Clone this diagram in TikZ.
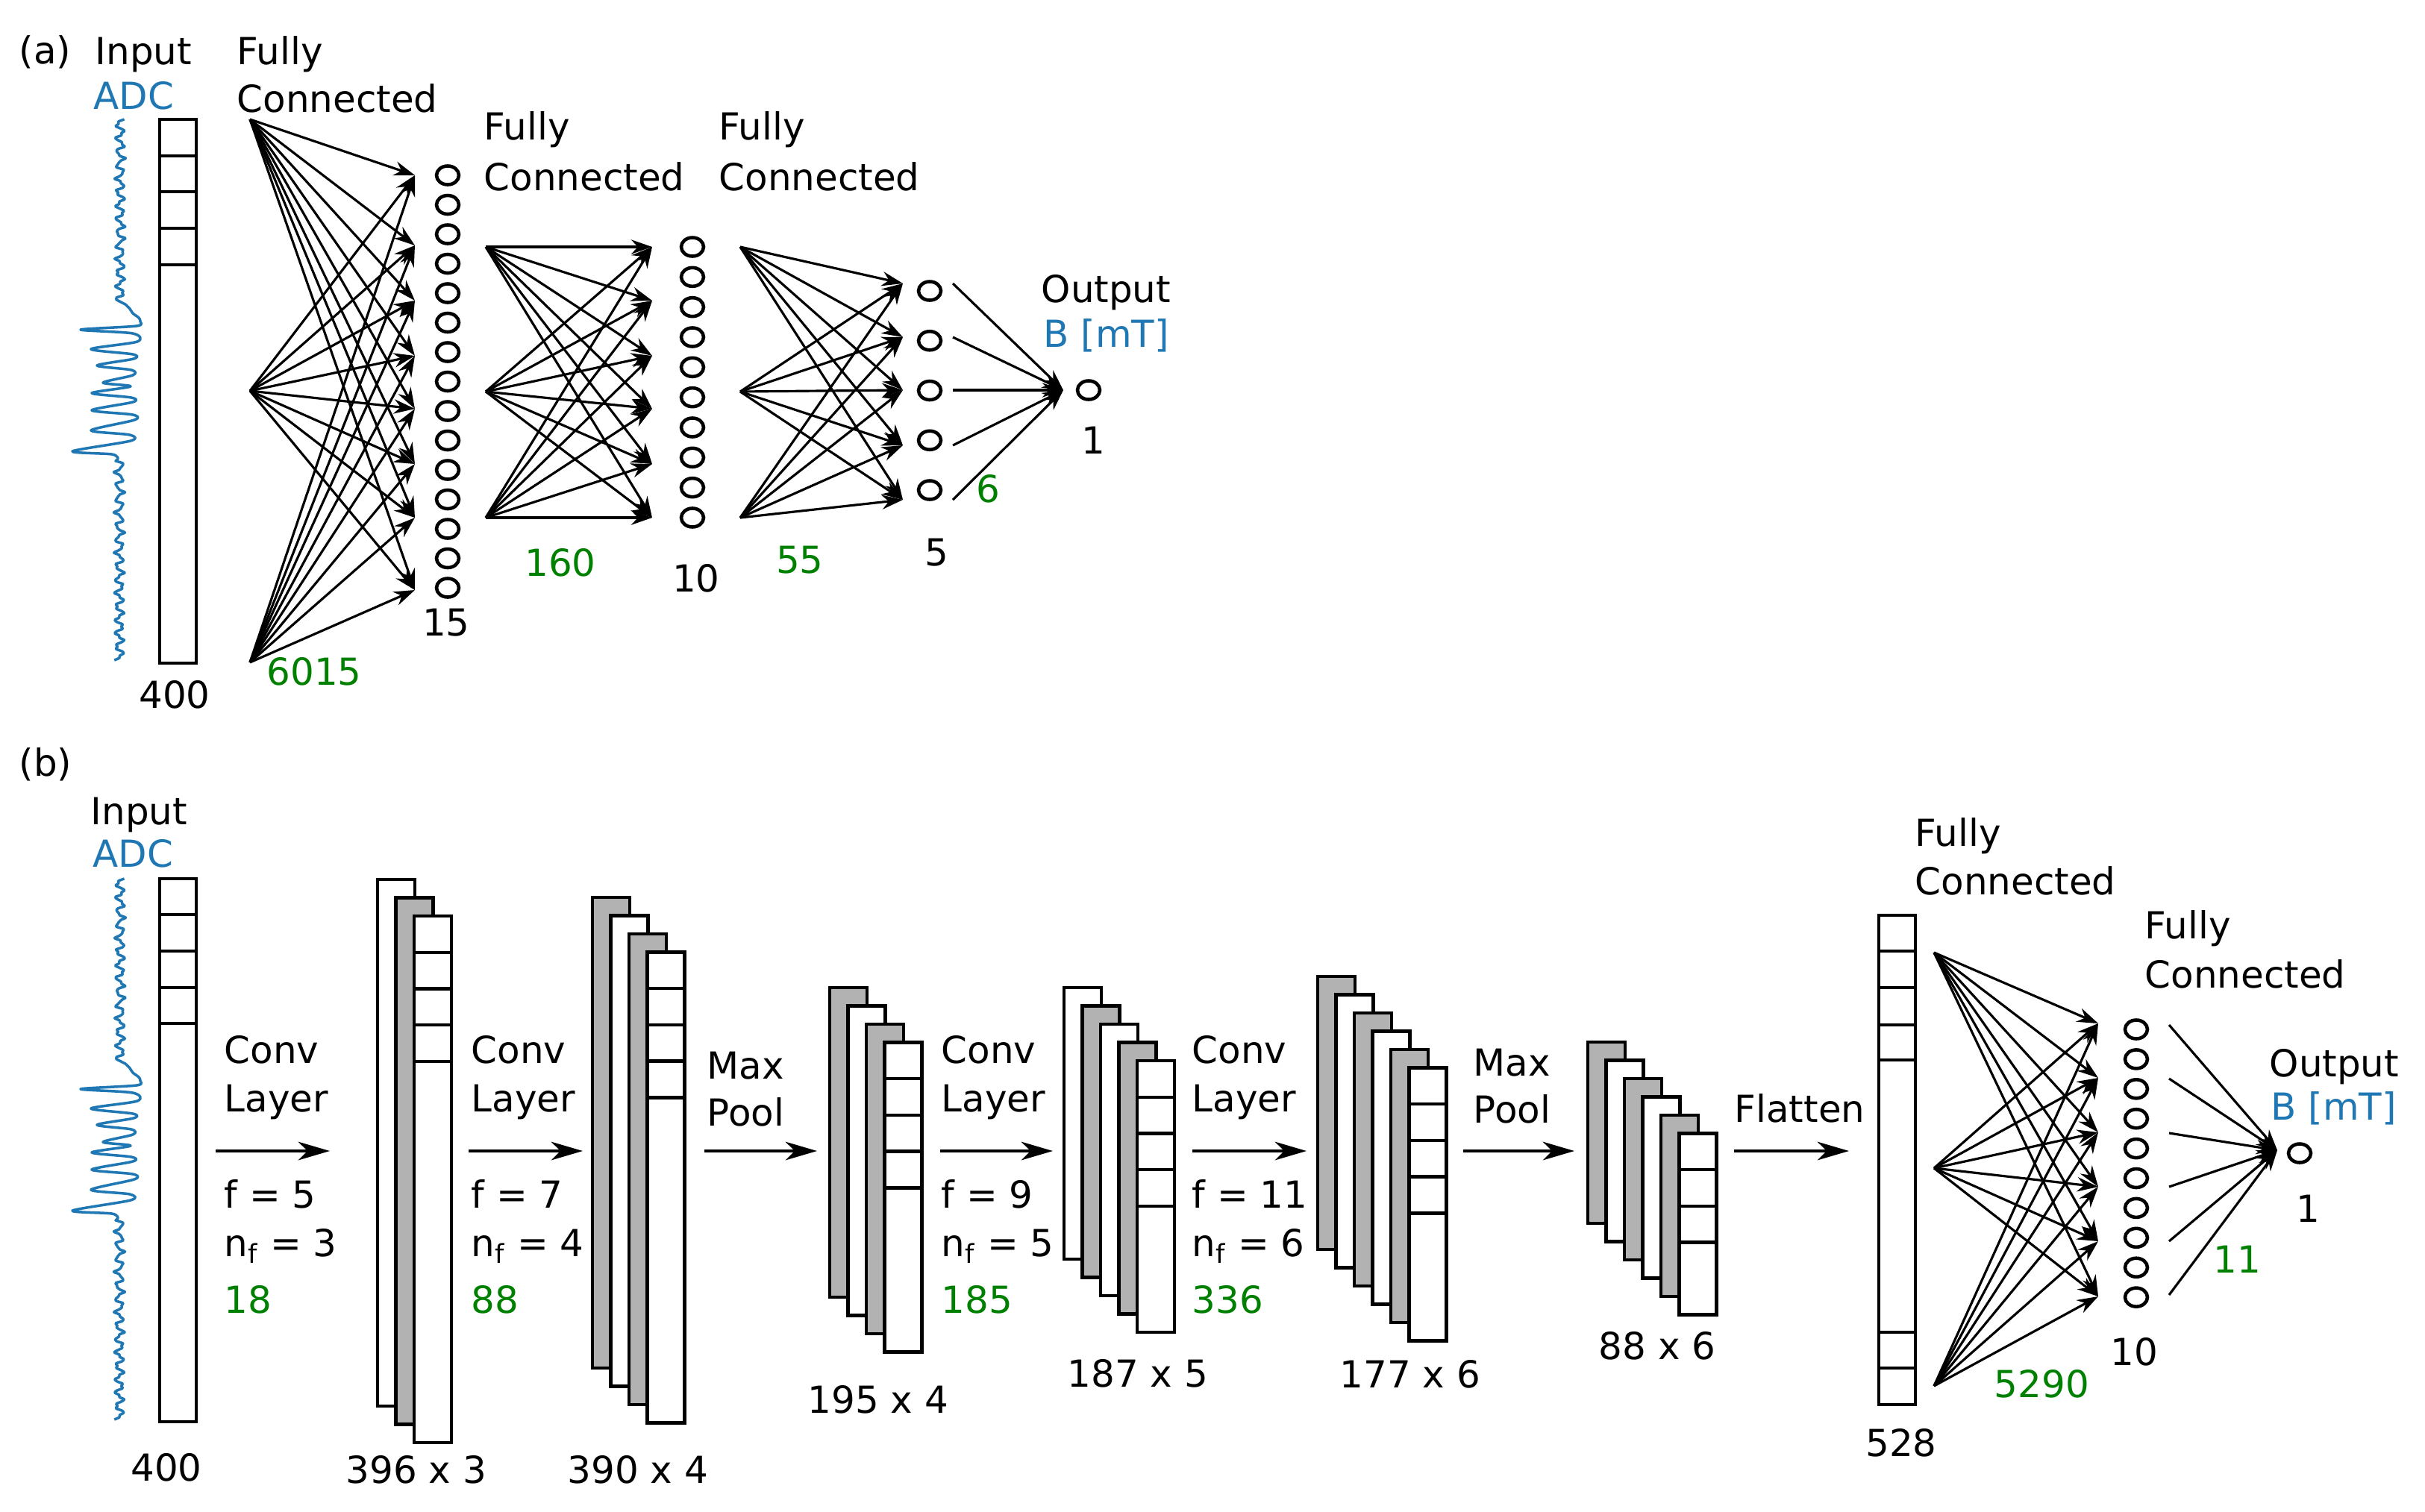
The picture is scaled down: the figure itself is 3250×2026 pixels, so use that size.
\documentclass[tikz,border=0pt]{standalone}
\usepackage{xcolor}
\usepackage{fontspec}
\setmainfont{DejaVu Sans}
\usepackage{tikz}
\usetikzlibrary{arrows.meta, shapes.geometric}

\definecolor{adcblue}{RGB}{31,119,180}
\definecolor{pgreen}{RGB}{0,128,0}
\definecolor{mapgray}{RGB}{178,178,178}

% stack of feature maps: x, y, height, number of maps, number of cells
\newcommand{\fstack}[5]{%
  \foreach \i in {1,...,#4}{
    \pgfmathsetmacro{\fmx}{#1+24.5*(\i-1)}
    \pgfmathsetmacro{\fmy}{#2+24.5*(\i-1)}
    \pgfmathtruncatemacro{\fmodd}{mod(#4-\i,2)}
    \ifnum\fmodd=1 \def\fmcol{mapgray}\else\def\fmcol{white}\fi
    \draw[layerbox, fill=\fmcol] (\fmx,\fmy) rectangle ++(50,#3);
  }
  \pgfmathsetmacro{\fmlx}{#1+24.5*(#4-1)}
  \pgfmathsetmacro{\fmly}{#2+24.5*(#4-1)}
  \foreach \c in {1,...,#5} \draw[layerbox] (\fmlx,\fmly+48.7*\c) -- ++(50,0);
}

\newcommand{\adcwave}{%
  \draw[wave] plot[smooth, domain=160:402, samples=80] ({161+5*sin(20*(\x-280))+2.5*sin(47*(\x-280)+30)},\x)
    -- plot[smooth, tension=0.5] coordinates {(168,408) (174,414) (178,420) (186,426) (188,431)
       (183,437) (108,442) (178,447) (184,458) (122,468) (178,475) (179,481) (130,490) (176,496)
       (178,503) (138,513) (175,518) (123,527) (176,533) (178,539) (123,550) (178,556) (180,563)
       (122,577) (174,583) (175,591) (97,605) (150,609) (158,615)}
    -- plot[smooth, domain=618:885, samples=90] ({160+5*sin(20*(\x-750)+90)+2.5*sin(47*(\x-750))},\x);
}

\begin{document}
\begin{tikzpicture}[x=0.01cm, y=-0.01cm]
\tikzstyle{neuron}=[ellipse, draw, line width=1.3pt, minimum width=0.30cm, minimum height=0.25cm, inner sep=0pt]
\tikzstyle{lbl}=[inner sep=0pt, anchor=base west, font=\fontsize{14.2}{17}\selectfont]
\tikzstyle{dimlbl}=[lbl, anchor=base]
\tikzstyle{parlbl}=[lbl, text=pgreen]
\tikzstyle{fcarrow}=[-{Stealth[length=8pt, width=5.5pt]}, line width=0.9pt]
\tikzstyle{convarrow}=[-{Stealth[length=12pt, width=7pt, inset=3.5pt]}, line width=1.1pt]
\tikzstyle{layerbox}=[draw, line width=1.25pt]
\tikzstyle{wave}=[adcblue, line width=1pt, line join=round]
\useasboundingbox (0,0) rectangle (3250,2026);

% (a)
\node[lbl] (tagA) at (25,85) {(a)};
\node[lbl] (inA) at (127,86) {Input};
\node[lbl, text=adcblue] (adcA) at (125,146) {ADC};
\adcwave
\draw[layerbox] (214,160) rectangle (263,889);
\foreach \c in {209,257,306,355} \draw[layerbox] (214,\c) -- (263,\c);
\node[dimlbl] (lenA) at (234,949) {400};

\node[lbl] (fcA1a) at (317,86) {Fully};
\node[lbl] (fcA1b) at (317,150) {Connected};
\foreach \s/\sy in {1/160, 2/524, 3/888} \coordinate (a1s\s) at (335,\sy);
\foreach \t/\ty in {1/235, 2/329, 3/403, 4/477, 5/548, 6/622, 7/694, 8/791} \coordinate (a1t\t) at (556,\ty);
\foreach \s in {1,2,3} \foreach \t in {1,...,8} \draw[fcarrow] (a1s\s) -- (a1t\t);
\node[parlbl] (pA1) at (357,918) {6015};
\foreach \k in {0,...,14} \node[neuron] (hA1-\k) at (600,235+39.5*\k) {};
\node[dimlbl] (nA1) at (598,852) {15};

\node[lbl] (fcA2a) at (648,187) {Fully};
\node[lbl] (fcA2b) at (648,255) {Connected};
\foreach \s/\sy in {1/331, 2/525, 3/694} \coordinate (a2s\s) at (651,\sy);
\foreach \t/\ty in {1/331, 2/403, 3/477, 4/548, 5/622, 6/694} \coordinate (a2t\t) at (874,\ty);
\foreach \s in {1,2,3} \foreach \t in {1,...,6} \draw[fcarrow] (a2s\s) -- (a2t\t);
\node[parlbl, anchor=base] (pA2) at (751,772) {160};
\foreach \k in {0,...,9} \node[neuron] (hA2-\k) at (928,331+40.33*\k) {};
\node[dimlbl] (nA2) at (933,793) {10};

\node[lbl] (fcA3a) at (963,187) {Fully};
\node[lbl] (fcA3b) at (963,255) {Connected};
\foreach \s/\sy in {1/331, 2/525, 3/694} \coordinate (a3s\s) at (992,\sy);
\foreach \t/\ty in {1/380, 2/452, 3/523, 4/597, 5/670} \coordinate (a3t\t) at (1210,\ty);
\foreach \s in {1,2,3} \foreach \t in {1,...,5} \draw[fcarrow] (a3s\s) -- (a3t\t);
\node[parlbl, anchor=base] (pA3) at (1072,768) {55};
\foreach \k in {0,...,4} \node[neuron] (hA3-\k) at (1246,390+66.75*\k) {};
\node[dimlbl] (nA3) at (1255,758) {5};

\coordinate (aout) at (1425,523);
\foreach \t/\ty in {1/380, 2/452, 3/523, 4/597, 5/670} {
  \coordinate (a4s\t) at (1277,\ty);
  \draw[fcarrow] (a4s\t) -- (aout);
}
\node[neuron] (yA) at (1459,523) {};
\node[lbl] (outA) at (1395,405) {Output};
\node[lbl, text=adcblue] (bA) at (1398,465) {B [mT]};
\node[dimlbl] (nA4) at (1465,608) {1};
\node[parlbl] (pA4) at (1308,673) {6};

% (b)
\node[lbl] (tagB) at (25,1040) {(b)};
\node[lbl] (inB) at (121,1105) {Input};
\node[lbl, text=adcblue] (adcB) at (124,1162) {ADC};
\begin{scope}[shift={(0,1018)}]
\adcwave
\end{scope}
\draw[layerbox] (214,1178) rectangle (263,1906);
\foreach \c in {1226,1275,1324,1372} \draw[layerbox] (214,\c) -- (263,\c);
\node[dimlbl] (lenB) at (223,1985) {400};

\foreach \i/\cx/\cf/\cn/\cp in {1/300/5/3/18, 2/631/7/4/88, 3/1261/9/5/185, 4/1597/11/6/336} {
  \node[lbl] (conv\i-a) at (\cx,1425) {Conv};
  \node[lbl] (conv\i-b) at (\cx,1490) {Layer};
  \node[lbl] (conv\i-f) at (\cx,1619) {f = \cf};
  \node[lbl] (conv\i-n) at (\cx,1684) {n\textsubscript{f} = \cn};
  \node[parlbl] (conv\i-p) at (\cx,1760) {\cp};
}
\node[lbl] (pool1-a) at (947,1446) {Max};
\node[lbl] (pool1-b) at (947,1509) {Pool};
\node[lbl] (pool2-a) at (1974,1442) {Max};
\node[lbl] (pool2-b) at (1974,1505) {Pool};
\node[lbl] (flat) at (2324,1504) {Flatten};

\foreach \a/\xs/\xe in {1/289/442, 2/628/781, 3/944/1095, 4/1260/1411, 5/1598/1751, 6/1961/2110, 7/2324/2478} {
  \coordinate (op\a s) at (\xs,1543);
  \coordinate (op\a e) at (\xe,1543);
  \draw[convarrow] (op\a s) -- (op\a e);
}

\fstack{506}{1179}{706}{3}{4}
\fstack{794}{1203}{631}{4}{4}
\fstack{1112}{1324}{415}{4}{4}
\fstack{1426}{1324}{364}{5}{4}
\fstack{1766}{1309}{366}{6}{4}
\fstack{2128}{1397}{243}{6}{3}
\node[dimlbl] (dim1) at (558,1988) {396 x 3};
\node[dimlbl] (dim2) at (855,1988) {390 x 4};
\node[dimlbl] (dim3) at (1177,1894) {195 x 4};
\node[dimlbl] (dim4) at (1525,1859) {187 x 5};
\node[dimlbl] (dim5) at (1890,1860) {177 x 6};
\node[dimlbl] (dim6) at (2221,1822) {88 x 6};

\draw[layerbox] (2518,1227) rectangle (2567,1883);
\foreach \c in {1275,1324,1374,1421,1786,1834} \draw[layerbox] (2518,\c) -- (2567,\c);
\node[dimlbl] (lenF) at (2548,1952) {528};

\node[lbl] (fcB1a) at (2566,1134) {Fully};
\node[lbl] (fcB1b) at (2566,1199) {Connected};
\foreach \s/\sy in {1/1277, 2/1566, 3/1858} \coordinate (b1s\s) at (2592,\sy);
\foreach \t/\ty in {1/1372, 2/1445, 3/1518, 4/1591, 5/1664, 6/1738} \coordinate (b1t\t) at (2812,\ty);
\foreach \s in {1,2,3} \foreach \t in {1,...,6} \draw[fcarrow] (b1s\s) -- (b1t\t);
\node[parlbl] (pB1) at (2672,1873) {5290};
\foreach \k in {0,...,9} \node[neuron] (hB1-\k) at (2863,1380+39.9*\k) {};
\node[dimlbl] (nB1) at (2860,1830) {10};

\node[lbl] (fcB2a) at (2874,1258) {Fully};
\node[lbl] (fcB2b) at (2874,1324) {Connected};
\coordinate (bout) at (3052,1542);
\foreach \t/\ty in {1/1374, 2/1446, 3/1519, 4/1591, 5/1664, 6/1736} {
  \coordinate (b2s\t) at (2907,\ty);
  \draw[fcarrow] (b2s\t) -- (bout);
}
\node[neuron] (yB) at (3082,1546) {};
\node[lbl] (outB) at (3041,1443) {Output};
\node[lbl, text=adcblue] (bB) at (3043,1501) {B [mT]};
\node[dimlbl] (nB2) at (3093,1638) {1};
\node[parlbl] (pB2) at (2966,1706) {11};

\end{tikzpicture}
\end{document}
